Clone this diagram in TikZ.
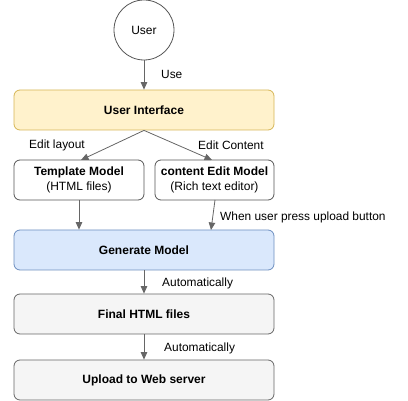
\documentclass[tikz,border=0pt]{standalone}
\usepackage{fontspec}
\setmainfont{Liberation Sans}
\usetikzlibrary{arrows.meta,positioning}
\definecolor{uifill}{HTML}{FFF2CC}
\definecolor{uidraw}{HTML}{D6B656}
\definecolor{genfill}{HTML}{DAE8FC}
\definecolor{gendraw}{HTML}{6C8EBF}
\definecolor{grayfill}{HTML}{F5F5F5}
\definecolor{graydraw}{HTML}{666666}
\definecolor{plaindraw}{HTML}{555555}
\begin{document}
\begin{tikzpicture}[x=1pt,y=-1pt,
  box/.style={draw, rounded corners=6pt, line width=0.8pt, align=center, inner sep=0pt,
    font=\fontsize{12}{14.5}\selectfont},
  wide/.style={box, minimum width=260pt, minimum height=40pt},
  ui/.style={wide, fill=uifill, draw=uidraw},
  gen/.style={wide, fill=genfill, draw=gendraw},
  grey/.style={wide, fill=grayfill, draw=graydraw},
  small/.style={box, fill=white, draw=plaindraw, minimum height=40pt},
  conn/.style={draw=graydraw, line width=0.8pt, -{Triangle[length=7.5pt,width=6.5pt]}},
  lbl/.style={font=\fontsize{11.9}{13}\selectfont, inner sep=0pt, anchor=west, text=black}
]
\useasboundingbox (0,0) rectangle (408,401);
\node[draw=plaindraw, line width=0.8pt, circle, minimum size=60pt, inner sep=0pt,
  font=\fontsize{12}{14}\selectfont] (user) at (144,30) {User};
\node[ui] (ui) at (144,110) {\textbf{User Interface}};
\node[small, minimum width=130pt] (tpl) at (79,180) {\textbf{Template Model}\\(HTML files)};
\node[small, minimum width=119pt] (cnt) at (214.5,180) {\textbf{content Edit Model}\\(Rich text editor)};
\node[gen] (gen) at (144,250) {\textbf{Generate Model}};
\node[grey] (fin) at (144,314) {\textbf{Final HTML files}};
\node[grey] (upl) at (144,380) {\textbf{Upload to Web server}};

\coordinate (cntb) at (215,200);
\coordinate (gent) at (211,230);
\coordinate (tplt) at (81,160);
\coordinate (cntt) at (212,160);

\draw[conn] (user) -- (ui);
\draw[conn] (ui.south) -- (tplt);
\draw[conn] (ui.south) -- (cntt);
\draw[conn] (tpl.south -| 79,0) -- (gen.north -| 79,0);
\draw[conn] (cntb) -- (gent);
\draw[conn] (gen) -- (fin);
\draw[conn] (fin) -- (upl);

\node[lbl] (l1) at (161,74) {Use};
\node[lbl] (l2) at (29,145) {Edit layout};
\node[lbl] (l3) at (198,145) {Edit Content};
\node[lbl] (l4) at (220,217) {When user press upload button};
\node[lbl] (l5) at (162,283) {Automatically};
\node[lbl] (l6) at (164,348) {Automatically};
\end{tikzpicture}
\end{document}
